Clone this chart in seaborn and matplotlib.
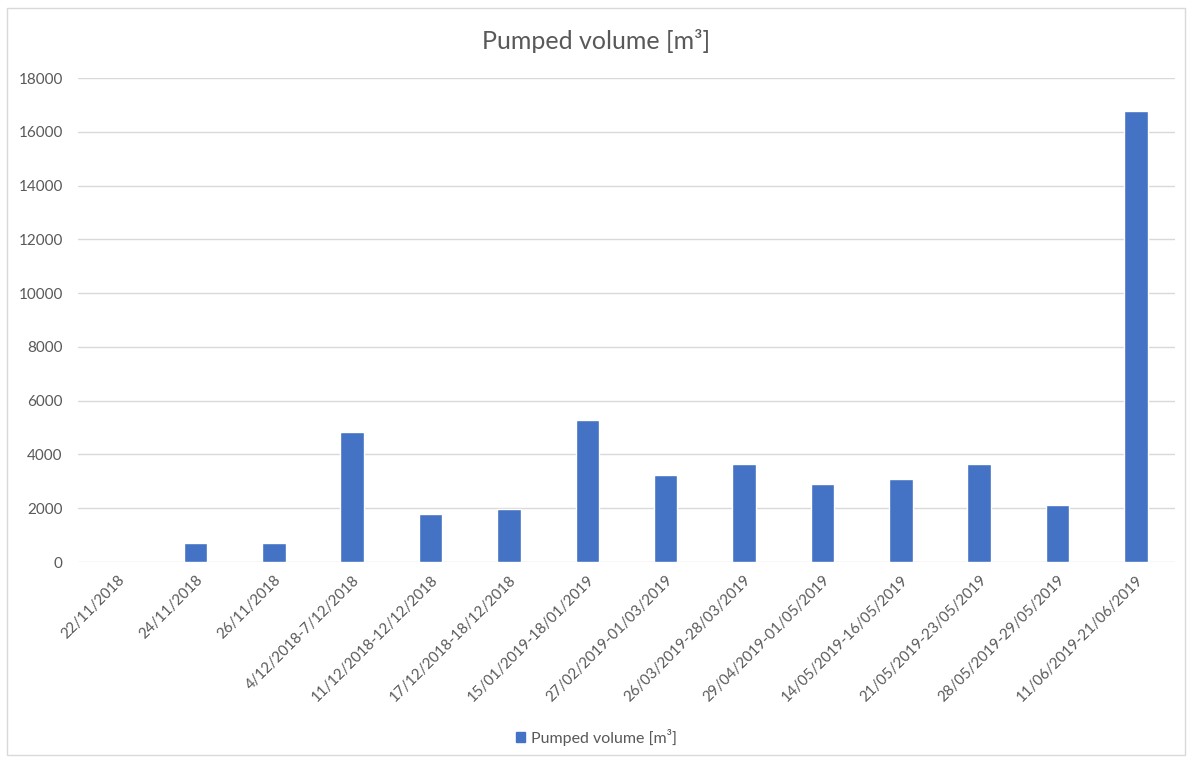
import matplotlib
matplotlib.use("Agg")
import matplotlib.pyplot as plt
from matplotlib.patches import Rectangle
import seaborn as sns
import pandas as pd

periods = [
    "22/11/2018", "24/11/2018", "26/11/2018", "4/12/2018-7/12/2018",
    "11/12/2018-12/12/2018", "17/12/2018-18/12/2018", "15/01/2019-18/01/2019",
    "27/02/2019-01/03/2019", "26/03/2019-28/03/2019", "29/04/2019-01/05/2019",
    "14/05/2019-16/05/2019", "21/05/2019-23/05/2019", "28/05/2019-29/05/2019",
    "11/06/2019-21/06/2019",
]
volumes = [0, 700, 700, 4820, 1800, 1970, 5270, 3240, 3660, 2900, 3100, 3660, 2130, 16780]
y_ticks = [0, 2000, 4000, 6000, 8000, 10000, 12000, 14000, 16000, 18000]
series_name = "Pumped volume [m³]"

df = pd.DataFrame({"period": periods, "volume": volumes})

sns.set_theme(style="white")
plt.rcParams["font.family"] = ["Lato", "DejaVu Sans"]

text_color = "#595959"
bar_color = "#4472C4"

fig = plt.figure(figsize=(11.93, 7.6), dpi=100)
ax = fig.add_axes([78 / 1193, 1 - 562 / 760, (1175 - 78) / 1193, (562 - 78) / 760])

sns.barplot(data=df, x="period", y="volume", color=bar_color, width=0.3,
            saturation=1, ax=ax)

ax.set_ylim(0, 18000)
ax.set_xlim(-0.5, len(periods) - 0.5)
ax.set_yticks(y_ticks)
ax.set_yticklabels([str(v) for v in y_ticks], color=text_color, fontsize=11)
ax.set_xticks(range(len(periods)))
ax.set_xticklabels(periods, rotation=45, ha="right", rotation_mode="anchor",
                   color=text_color, fontsize=10.8)
ax.tick_params(axis="y", length=0, pad=11)
ax.tick_params(axis="x", length=0, pad=8)
ax.set_xlabel("")
ax.set_ylabel("")
ax.yaxis.grid(True, color="#D9D9D9", linewidth=1)
ax.set_axisbelow(True)
for s in ax.spines.values():
    s.set_visible(False)

handle = Rectangle((0, 0), 1, 1, color=bar_color)
fig.legend([handle], [series_name], loc="center", bbox_to_anchor=(0.5, 1 - 737 / 760),
           frameon=False, fontsize=11.5, labelcolor=text_color, handlelength=0.6,
           handleheight=0.6, handletextpad=0.4)

fig.text(0.5, 1 - 41 / 760, "Pumped volume [m³]", ha="center", va="center",
         fontsize=18, color=text_color)

fig.patches.append(Rectangle((7 / 1193, 5 / 760), 1178 / 1193, 747 / 760,
                             transform=fig.transFigure, fill=False,
                             edgecolor="#D9D9D9", linewidth=1))

fig.savefig("out.png", dpi=100, facecolor="white")
